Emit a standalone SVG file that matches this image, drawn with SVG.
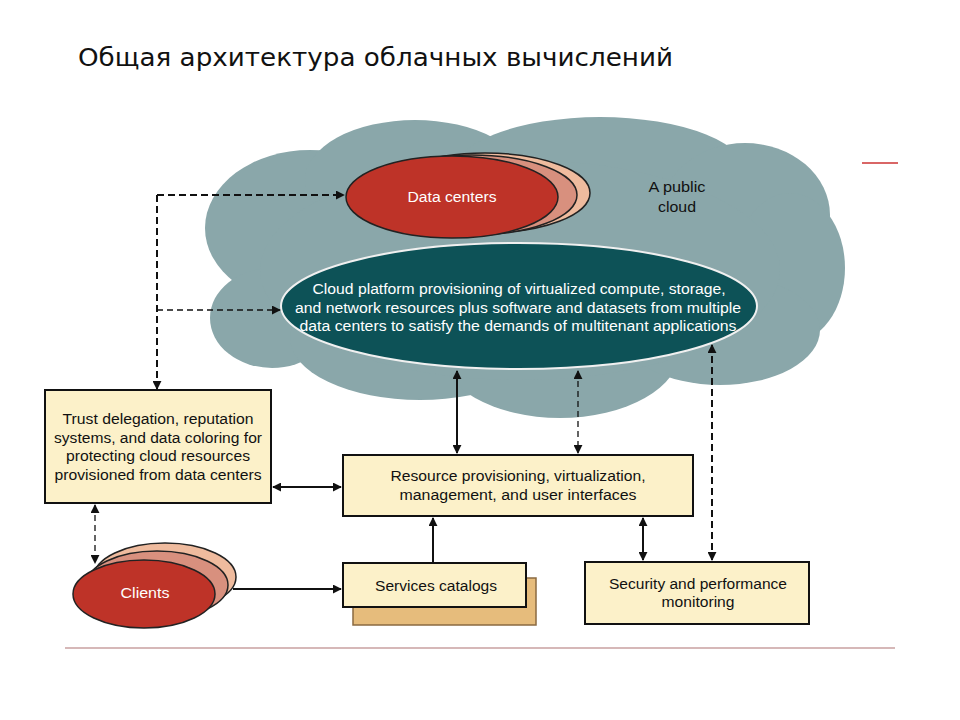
<svg xmlns="http://www.w3.org/2000/svg" width="960" height="720" viewBox="0 0 960 720">
<defs>
<style>
.t{font-family:"Liberation Sans",Arial,sans-serif;font-size:14px;fill:#111;text-anchor:middle}
.w{fill:#fff}
.box{fill:#FCF1C9;stroke:#111;stroke-width:2}
.cl{fill:#8AA7AA}
.ln{fill:none;stroke:#111;stroke-width:2}
.dsh{fill:none;stroke:#111;stroke-width:2;stroke-dasharray:7 4}
.dsh2{fill:none;stroke:#111;stroke-width:1.3;stroke-dasharray:6 4}
</style>
<marker id="ah" viewBox="0 0 10 10" refX="9" refY="5" markerWidth="9" markerHeight="9" markerUnits="userSpaceOnUse" orient="auto-start-reverse">
<path d="M0,0 L10,5 L0,10 z" fill="#111"/>
</marker>
</defs>
<rect width="960" height="720" fill="#fff"/>
<text x="78" y="66" font-family="'DejaVu Sans',Verdana,sans-serif" font-size="25" fill="#111" textLength="595" lengthAdjust="spacingAndGlyphs">Общая архитектура облачных вычислений</text>
<line x1="862" y1="163" x2="898" y2="163" stroke="#cc3333" stroke-width="1.5"/>
<line x1="65" y1="648" x2="895" y2="648" stroke="#c8a0a0" stroke-width="1.5"/>

<g id="cloud">
<ellipse class="cl" cx="310" cy="228" rx="105" ry="78"/>
<ellipse class="cl" cx="415" cy="180" rx="110" ry="60"/>
<ellipse class="cl" cx="600" cy="177" rx="150" ry="60"/>
<ellipse class="cl" cx="745" cy="215" rx="85" ry="72"/>
<ellipse class="cl" cx="790" cy="268" rx="55" ry="75"/>
<ellipse class="cl" cx="272" cy="318" rx="62" ry="50"/>
<ellipse class="cl" cx="420" cy="338" rx="130" ry="62"/>
<ellipse class="cl" cx="560" cy="350" rx="120" ry="68"/>
<ellipse class="cl" cx="720" cy="330" rx="100" ry="55"/>
<ellipse class="cl" cx="520" cy="270" rx="260" ry="110"/>
<text class="t" x="677" y="192" textLength="57" lengthAdjust="spacingAndGlyphs">A public</text>
<text class="t" x="677" y="212" textLength="38" lengthAdjust="spacingAndGlyphs">cloud</text>
</g>

<g id="datacenters">
<ellipse cx="485" cy="193" rx="105" ry="40" fill="#EFBB9E" stroke="#222" stroke-width="1.5"/>
<ellipse cx="472" cy="195" rx="105" ry="40" fill="#D8907E" stroke="#222" stroke-width="1.5"/>
<ellipse cx="452" cy="197" rx="106" ry="41" fill="#BE3328" stroke="#222" stroke-width="1.5"/>
<text class="t w" x="452" y="202" textLength="89" lengthAdjust="spacingAndGlyphs">Data centers</text>
</g>

<g id="platform">
<ellipse cx="519" cy="306" rx="238" ry="63" fill="#0D5257" stroke="#f0f0f0" stroke-width="2"/>
<text class="t w" x="519" y="294" textLength="413" lengthAdjust="spacingAndGlyphs">Cloud platform provisioning of virtualized compute, storage,</text>
<text class="t w" x="518" y="313" textLength="446" lengthAdjust="spacingAndGlyphs">and network resources plus software and datasets from multiple</text>
<text class="t w" x="518" y="331" textLength="437" lengthAdjust="spacingAndGlyphs">data centers to satisfy the demands of multitenant applications</text>
</g>

<g id="trust">
<rect class="box" x="45" y="390" width="226" height="113"/>
<text class="t" x="158" y="424" textLength="191" lengthAdjust="spacingAndGlyphs">Trust delegation, reputation</text>
<text class="t" x="158" y="443" textLength="208" lengthAdjust="spacingAndGlyphs">systems, and data coloring for</text>
<text class="t" x="158" y="461" textLength="184" lengthAdjust="spacingAndGlyphs">protecting cloud resources</text>
<text class="t" x="158" y="480" textLength="207" lengthAdjust="spacingAndGlyphs">provisioned from data centers</text>
</g>

<g id="resource">
<rect class="box" x="343" y="455" width="350" height="61"/>
<text class="t" x="518" y="481" textLength="255" lengthAdjust="spacingAndGlyphs">Resource provisioning, virtualization,</text>
<text class="t" x="518" y="500" textLength="237" lengthAdjust="spacingAndGlyphs">management, and user interfaces</text>
</g>

<g id="services">
<rect x="353" y="578" width="183" height="47" fill="#E6BC7C" stroke="#8a6a40" stroke-width="1.5"/>
<rect class="box" x="343" y="563" width="183" height="44"/>
<text class="t" x="436" y="591" textLength="122" lengthAdjust="spacingAndGlyphs">Services catalogs</text>
</g>

<g id="security">
<rect class="box" x="585" y="562" width="224" height="62"/>
<text class="t" x="698" y="589" textLength="178" lengthAdjust="spacingAndGlyphs">Security and performance</text>
<text class="t" x="698" y="607" textLength="73" lengthAdjust="spacingAndGlyphs">monitoring</text>
</g>

<g id="clients">
<ellipse cx="165" cy="577" rx="71" ry="34" fill="#EFBB9E" stroke="#222" stroke-width="1.5"/>
<ellipse cx="157" cy="585" rx="71" ry="34" fill="#D8907E" stroke="#222" stroke-width="1.5"/>
<ellipse cx="144" cy="594" rx="71" ry="34" fill="#BE3328" stroke="#222" stroke-width="1.5"/>
<text class="t w" x="145" y="598" textLength="49" lengthAdjust="spacingAndGlyphs">Clients</text>
</g>

<g id="connectors">
<path class="dsh" d="M157,195 L344,195" marker-end="url(#ah)"/>
<path class="dsh" d="M157,195 L157,389" marker-end="url(#ah)"/>
<path class="dsh2" d="M157,310 L280,310" marker-end="url(#ah)"/>
<path class="ln" d="M457,371 L457,453" marker-start="url(#ah)" marker-end="url(#ah)"/>
<path class="dsh2" d="M578,371 L578,453" marker-start="url(#ah)" marker-end="url(#ah)"/>
<path class="dsh" d="M712,345 L712,560" marker-start="url(#ah)" marker-end="url(#ah)"/>
<path class="ln" d="M273,487 L341,487" marker-start="url(#ah)" marker-end="url(#ah)"/>
<path class="dsh2" d="M95,505 L95,563" marker-start="url(#ah)" marker-end="url(#ah)"/>
<path class="ln" d="M233,589 L341,589" marker-end="url(#ah)"/>
<path class="ln" d="M433,563 L433,518" marker-end="url(#ah)"/>
<path class="ln" d="M643,518 L643,560" marker-start="url(#ah)" marker-end="url(#ah)"/>
</g>
</svg>
